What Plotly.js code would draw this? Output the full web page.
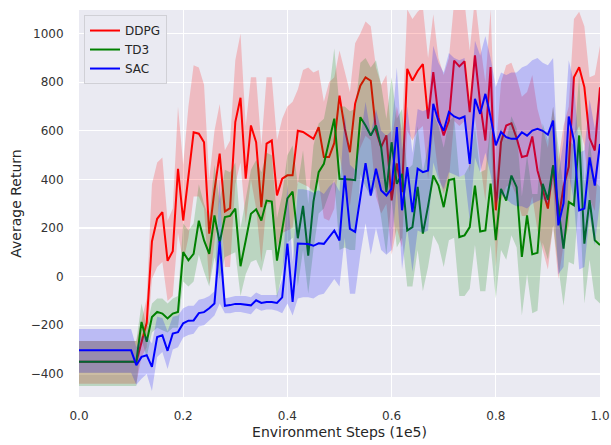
<!DOCTYPE html>
<html>
<head>
<meta charset="utf-8">
<script src="https://cdn.plot.ly/plotly-3.0.1.min.js"></script>
<style>html,body{margin:0;padding:0;background:#fff;}#chart{width:611px;height:445px;}</style>
</head>
<body>
<div id="chart"></div>
<script>
// Environment steps (1e5)
const steps = [0.00,0.01,0.02,0.03,0.04,0.05,0.06,0.07,0.08,0.09,
  0.10,0.11,0.12,0.13,0.14,0.15,0.16,0.17,0.18,0.19,
  0.20,0.21,0.22,0.23,0.24,0.25,0.26,0.27,0.28,0.29,
  0.30,0.31,0.32,0.33,0.34,0.35,0.36,0.37,0.38,0.39,
  0.40,0.41,0.42,0.43,0.44,0.45,0.46,0.47,0.48,0.49,
  0.50,0.51,0.52,0.53,0.54,0.55,0.56,0.57,0.58,0.59,
  0.60,0.61,0.62,0.63,0.64,0.65,0.66,0.67,0.68,0.69,
  0.70,0.71,0.72,0.73,0.74,0.75,0.76,0.77,0.78,0.79,
  0.80,0.81,0.82,0.83,0.84,0.85,0.86,0.87,0.88,0.89,
  0.90,0.91,0.92,0.93,0.94,0.95,0.96,0.97,0.98,0.99,
  1.00];

// DDPG
const ddpgMean = [-350,-350,-350,-350,-350,-350,-350,-350,-350,-350,
  -350,-350,-270,-190,145,238,266,65,105,444,
  231,420,594,588,553,177,355,506,268,282,
  636,736,403,622,553,286,547,560,334,403,
  417,417,600,595,581,567,615,492,492,550,
  745,610,512,712,786,820,806,600,533,581,
  314,466,348,855,807,846,875,650,841,656,
  581,642,889,865,886,677,910,712,560,862,
  273,553,622,631,570,492,498,577,437,362,
  280,458,232,370,452,820,862,780,570,519,
  779];
const ddpgLow = [-440,-440,-440,-440,-440,-440,-440,-440,-440,-440,
  -440,-440,-330,-290,-10,40,60,-100,-80,180,
  60,160,330,330,280,-30,140,320,40,40,
  380,470,220,400,280,60,300,300,120,180,
  190,200,390,380,370,350,390,240,230,280,
  500,380,290,460,530,580,560,330,260,300,
  90,200,120,600,560,600,620,400,590,420,
  340,400,640,620,640,430,660,470,310,610,
  40,310,370,380,330,250,250,330,190,110,
  30,210,-10,130,210,580,620,540,320,270,
  540];
const ddpgHigh = [-265,-265,-265,-265,-265,-265,-265,-265,-265,-265,
  -265,-265,-180,-90,380,470,490,230,280,700,
  460,700,870,860,790,400,600,710,520,560,
  890,1000,620,820,820,540,820,820,560,650,
  700,720,770,850,860,840,850,720,800,820,
  930,850,760,960,1000,1050,1030,860,790,830,
  560,700,600,1100,1060,1090,1110,900,1080,900,
  830,900,1130,1110,1130,930,1150,960,800,1100,
  520,800,870,880,820,740,760,830,690,610,
  530,700,480,620,700,1060,1090,1030,820,830,
  950];

// TD3
const td3Mean = [-350,-350,-350,-350,-350,-350,-350,-350,-350,-350,
  -350,-350,-186,-268,-166,-145,-152,-172,-152,-145,
  101,67,94,230,149,94,252,140,245,250,
  280,43,149,259,277,231,313,309,66,189,
  322,350,158,291,86,309,430,464,560,650,
  403,403,400,397,656,622,581,622,533,348,
  553,382,423,190,204,369,177,290,416,375,
  286,397,403,163,170,204,375,186,190,383,
  150,361,313,416,368,81,252,92,98,382,
  317,458,290,115,307,294,581,136,315,150,
  130];
const td3Low = [-450,-450,-450,-450,-450,-450,-450,-450,-450,-450,
  -450,-450,-260,-330,-230,-210,-220,-230,-210,-210,
  -20,-40,-20,90,20,-40,80,-10,80,90,
  100,-80,10,60,70,20,110,110,-90,20,
  140,160,-40,110,-70,110,260,280,340,400,
  110,120,110,110,420,370,330,370,240,90,
  320,120,160,-40,-40,110,-60,40,170,130,
  40,150,160,-80,-80,-50,130,-60,-60,130,
  -90,110,70,170,120,-160,10,-150,-140,140,
  70,210,40,-120,60,50,340,-110,70,-90,
  -110];
const td3High = [-265,-265,-265,-265,-265,-265,-265,-265,-265,-265,
  -265,-265,-110,-210,-110,-90,-90,-110,-90,-80,
  220,190,220,380,300,240,460,310,440,430,
  470,200,320,440,480,430,510,500,240,340,
  500,540,380,520,300,540,630,650,760,940,
  700,700,680,690,880,900,860,890,790,650,
  820,650,690,440,460,620,430,540,670,620,
  530,640,660,410,420,460,620,430,440,630,
  390,610,560,660,610,330,500,340,340,630,
  560,700,540,360,560,540,830,380,560,390,
  370];

// SAC
const sacMean = [-303,-303,-303,-303,-303,-303,-303,-303,-303,-303,
  -303,-364,-330,-323,-371,-248,-241,-305,-234,-228,
  -192,-181,-180,-150,-146,-130,-110,145,-120,-117,
  -112,-112,-115,-118,-97,-108,-104,-104,-108,-85,
  136,-104,136,136,134,127,137,135,163,190,
  149,416,197,184,327,467,334,444,355,334,
  362,615,273,451,266,444,430,437,711,640,
  600,677,659,650,659,464,732,670,752,657,
  540,595,574,567,567,594,580,601,608,600,
  584,642,211,302,659,560,273,280,491,375,
  546];
const sacLow = [-395,-395,-395,-395,-395,-395,-395,-395,-395,-395,
  -395,-445,-420,-400,-470,-330,-310,-380,-300,-290,
  -250,-240,-235,-205,-200,-180,-160,-110,-150,-150,
  -145,-145,-150,-155,-130,-140,-135,-135,-140,-150,
  -110,-160,-90,-85,-85,-90,-75,-70,-40,-10,
  -40,160,-70,-70,90,220,90,200,110,90,
  110,370,30,200,20,190,180,190,470,400,
  360,430,420,410,420,230,490,430,510,420,
  300,340,320,300,290,290,280,300,310,320,
  300,380,10,40,420,310,30,40,250,130,
  310];
const sacHigh = [-215,-215,-215,-215,-215,-215,-215,-215,-215,-215,
  -215,-290,-245,-245,-275,-165,-170,-225,-165,-160,
  -130,-120,-120,-95,-90,-80,-60,400,-90,-85,
  -80,-80,-80,-85,-65,-75,-75,-75,-75,-10,
  380,60,360,360,355,345,355,340,370,390,
  350,670,460,440,570,720,590,690,600,580,
  600,860,520,700,510,690,680,690,950,880,
  840,920,900,890,900,700,970,910,990,900,
  780,840,830,840,840,860,870,890,900,880,
  870,900,420,560,890,800,510,520,730,610,
  780];

const xTicks = [0, 0.2, 0.4, 0.6, 0.8, 1.0];
const yTicks = [-400, -200, 0, 200, 400, 600, 800, 1000];

const series = [
  {name: 'DDPG', mean: ddpgMean, low: ddpgLow, high: ddpgHigh, color: '#ff0000', fill: 'rgba(255,0,0,0.2)'},
  {name: 'TD3', mean: td3Mean, low: td3Low, high: td3High, color: '#008000', fill: 'rgba(0,128,0,0.2)'},
  {name: 'SAC', mean: sacMean, low: sacLow, high: sacHigh, color: '#0000ff', fill: 'rgba(0,0,255,0.2)'}
];

const traces = [];
series.forEach(s => {
  traces.push({x: steps, y: s.low, type: 'scatter', mode: 'lines', line: {width: 0, color: s.fill},
    showlegend: false, hoverinfo: 'skip'});
  traces.push({x: steps, y: s.high, type: 'scatter', mode: 'lines', line: {width: 0, color: s.fill},
    fill: 'tonexty', fillcolor: s.fill, showlegend: false, hoverinfo: 'skip'});
  traces.push({x: steps, y: s.mean, type: 'scatter', mode: 'lines', name: s.name,
    line: {width: 2, color: s.color}});
});

const tickFont = {family: 'DejaVu Sans', size: 12, color: '#333333'};
const layout = {
  width: 611, height: 445,
  margin: {l: 79, r: 11, t: 10, b: 48},
  paper_bgcolor: '#ffffff',
  plot_bgcolor: '#eaeaf2',
  font: {family: 'DejaVu Sans', color: '#262626'},
  showlegend: true,
  legend: {
    x: 0.0096, y: 0.987, xanchor: 'left', yanchor: 'top',
    traceorder: 'normal',
    bgcolor: 'rgba(234,234,242,0.9)', bordercolor: '#d0d0d6', borderwidth: 1,
    font: {family: 'DejaVu Sans', size: 12, color: '#262626'}
  },
  xaxis: {
    range: [0, 1], tickvals: xTicks, tickformat: '.1f',
    showgrid: true, gridcolor: '#ffffff', gridwidth: 1.3,
    zeroline: false, showline: false,
    ticks: 'outside', ticklen: 8, tickcolor: 'rgba(0,0,0,0)',
    tickfont: tickFont,
    title: {text: 'Environment Steps (1e5)', font: {family: 'DejaVu Sans', size: 14, color: '#262626'}, standoff: 4}
  },
  yaxis: {
    range: [-495, 1097], tickvals: yTicks,
    showgrid: true, gridcolor: '#ffffff', gridwidth: 1.3,
    zeroline: false, showline: false,
    ticks: 'outside', ticklen: 12, tickcolor: 'rgba(0,0,0,0)',
    tickfont: tickFont,
    title: {text: 'Average Return', font: {family: 'DejaVu Sans', size: 14, color: '#262626'}, standoff: 5}
  }
};

Plotly.newPlot('chart', traces, layout, {displayModeBar: false, staticPlot: true});
</script>
</body>
</html>
